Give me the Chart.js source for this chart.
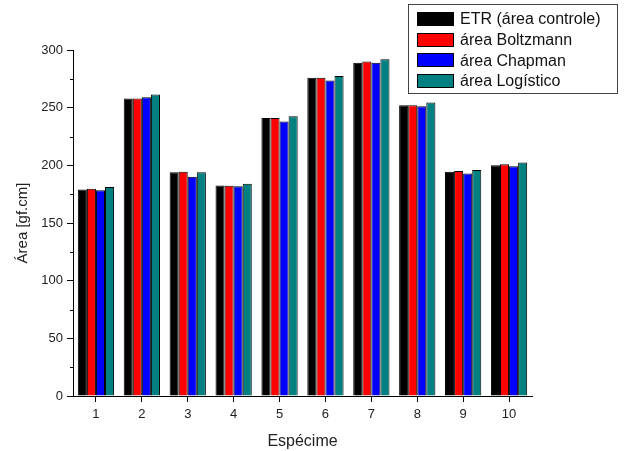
<!DOCTYPE html>
<html>
<head>
<meta charset="utf-8">
<script src="https://cdn.jsdelivr.net/npm/chart.js@4/dist/chart.umd.min.js"></script>
<style>
html,body{margin:0;padding:0;background:#fff;}
#wrap{position:relative;width:624px;height:451px;}
</style>
</head>
<body>
<div id="wrap"><canvas id="c" width="624" height="451"></canvas></div>
<script>
const categories = ['1','2','3','4','5','6','7','8','9','10'];
const seriesNames = ['ETR (área controle)','área Boltzmann','área Chapman','área Logístico'];
const etr      = [179, 258, 194, 182.5, 241, 276, 289, 252, 194.5, 200];
const boltzmann= [179.8, 258, 194.5, 182.3, 241, 276, 290, 252, 195, 201];
const chapman  = [178.5, 259, 190, 181.8, 238, 273.5, 289, 251.2, 193, 199.3];
const logistico= [181.2, 261.5, 194, 184, 242.5, 277.5, 292, 254.5, 196, 202.5];
const yTicks   = [0, 50, 100, 150, 200, 250, 300];
const colors = ['#000000', '#ff0000', '#0000ff', '#008080'];

const FONT = "'Liberation Sans', Arial, sans-serif";
const TXT = '#222';

const minorTicks = {
  id: 'minorTicks',
  afterDraw(chart) {
    const ctx = chart.ctx;
    const y = chart.scales.y;
    ctx.save();
    ctx.strokeStyle = '#000';
    ctx.lineWidth = 1;
    for (let i = 0; i < yTicks.length - 1; i++) {
      const v = (yTicks[i] + yTicks[i+1]) / 2;
      const py = Math.round(y.getPixelForValue(v)) + 0.5;
      ctx.beginPath();
      ctx.moveTo(y.right - 3, py);
      ctx.lineTo(y.right, py);
      ctx.stroke();
    }
    ctx.restore();
  }
};

const boxLegend = {
  id: 'boxLegend',
  afterDraw(chart) {
    const ctx = chart.ctx;
    const bx = 408.5, by = 4.5, bw = 209, bh = 89;
    ctx.save();
    ctx.fillStyle = '#fff';
    ctx.fillRect(bx, by, bw, bh);
    ctx.strokeStyle = '#444';
    ctx.lineWidth = 1;
    ctx.strokeRect(bx, by, bw, bh);
    ctx.font = '16px ' + FONT;
    ctx.textBaseline = 'middle';
    chart.data.datasets.forEach((ds, i) => {
      const cy = 19 + i * 20.6;
      ctx.fillStyle = ds.backgroundColor;
      ctx.fillRect(417, Math.round(cy - 7), 37, 14);
      ctx.strokeStyle = '#000';
      ctx.strokeRect(417.5, Math.round(cy - 7) + 0.5, 36, 13);
      ctx.fillStyle = '#111';
      ctx.fillText(ds.label, 460, cy + 1);
    });
    ctx.restore();
  }
};

new Chart(document.getElementById('c'), {
  type: 'bar',
  data: {
    labels: categories,
    datasets: [etr, boltzmann, chapman, logistico].map((d, i) => ({
      label: seriesNames[i],
      data: d,
      backgroundColor: colors[i],
      borderColor: '#000',
      borderWidth: 1,
      borderSkipped: 'start',
      categoryPercentage: 0.79,
      barPercentage: 1.0
    }))
  },
  options: {
    responsive: false,
    animation: false,
    devicePixelRatio: 1,
    layout: { padding: { left: 0, right: 92, top: 50, bottom: 0 } },
    plugins: { legend: { display: false }, tooltip: { enabled: false } },
    scales: {
      x: {
        type: 'category',
        offset: true,
        grid: { display: true, drawOnChartArea: false, drawTicks: true, tickLength: 6, color: '#000', offset: false },
        border: { display: true, color: '#000', width: 1 },
        ticks: { color: TXT, font: { family: FONT, size: 13 }, padding: 5, maxRotation: 0 },
        title: { display: true, text: 'Espécime', color: TXT, font: { family: FONT, size: 16 }, padding: { top: 0, bottom: 0 } },
        afterFit(s) { s.height = 55; }
      },
      y: {
        min: 0, max: 300,
        afterBuildTicks(s) { s.ticks = yTicks.map(v => ({ value: v })); },
        grid: { display: true, drawOnChartArea: false, drawTicks: true, tickLength: 6, color: '#000' },
        border: { display: true, color: '#000', width: 1 },
        ticks: { color: TXT, font: { family: FONT, size: 13 }, padding: 4 },
        title: { display: true, text: 'Área [gf.cm]', color: TXT, font: { family: FONT, size: 15 }, padding: { top: 14, bottom: 0 } },
        afterFit(s) { s.width = 73; }
      }
    }
  },
  plugins: [minorTicks, boxLegend]
});
</script>
</body>
</html>
